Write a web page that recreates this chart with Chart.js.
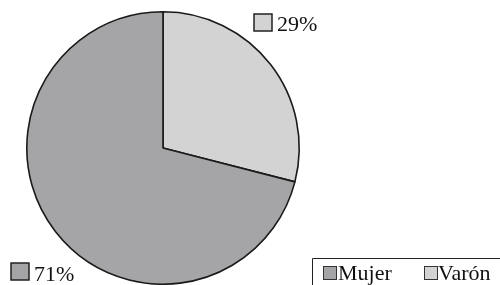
<!DOCTYPE html>
<html><head><meta charset="utf-8">
<script src="https://cdn.jsdelivr.net/npm/chart.js@4/dist/chart.umd.min.js"></script>
<style>html,body{margin:0;padding:0;background:#fff;}#c{display:block;}</style>
</head><body>
<canvas id="c" width="500" height="285"></canvas>
<script>
const categories = ["Varón", "Mujer"];
const values = [29, 71];
const sliceLabels = ["29%", "71%"];
const colors = ["#d3d3d3", "#a5a5a7"];
const legendOrder = ["Mujer", "Varón"];
const legendColors = ["#a5a5a7", "#d3d3d3"];

const FONT = '22px "Liberation Serif", "DejaVu Serif", serif';

const labelsPlugin = {
  id: 'customLabels',
  afterDraw(chart) {
    const ctx = chart.ctx;
    ctx.save();
    ctx.font = FONT;
    ctx.textBaseline = 'alphabetic';
    ctx.fillStyle = '#111';
    const pos = [[254, 14, 277, 31], [11, 263, 34, 281]];
    for (let i = 0; i < sliceLabels.length; i++) {
      const [bx, by, tx, ty] = pos[i];
      ctx.fillStyle = colors[i];
      ctx.fillRect(bx, by, 18, 17);
      ctx.strokeStyle = '#222';
      ctx.lineWidth = 1.5;
      ctx.strokeRect(bx, by, 18, 17);
      ctx.fillStyle = '#111';
      ctx.fillText(sliceLabels[i], tx, ty);
    }
    ctx.strokeStyle = '#222';
    ctx.lineWidth = 1;
    ctx.beginPath();
    ctx.moveTo(312.5, 290);
    ctx.lineTo(312.5, 258.5);
    ctx.lineTo(500, 258.5);
    ctx.stroke();
    const lx = [[323, 338], [424, 438]];
    for (let i = 0; i < legendOrder.length; i++) {
      const [bx, tx] = lx[i];
      ctx.fillStyle = legendColors[i];
      ctx.fillRect(bx, 266, 13, 13);
      ctx.strokeStyle = '#333';
      ctx.lineWidth = 1;
      ctx.strokeRect(bx + 0.5, 266.5, 13, 13);
      ctx.fillStyle = '#111';
      ctx.fillText(legendOrder[i], tx, 280);
    }
    ctx.restore();
  }
};

new Chart(document.getElementById('c'), {
  type: 'pie',
  data: {
    labels: categories,
    datasets: [{
      data: values,
      backgroundColor: colors,
      borderColor: '#1a1a1a',
      borderWidth: 1.6
    }]
  },
  options: {
    responsive: false,
    animation: false,
    layout: { padding: { left: 26, right: 200, top: 11, bottom: 0 } },
    plugins: { legend: { display: false }, tooltip: { enabled: false } }
  },
  plugins: [labelsPlugin]
});
</script>
</body></html>
